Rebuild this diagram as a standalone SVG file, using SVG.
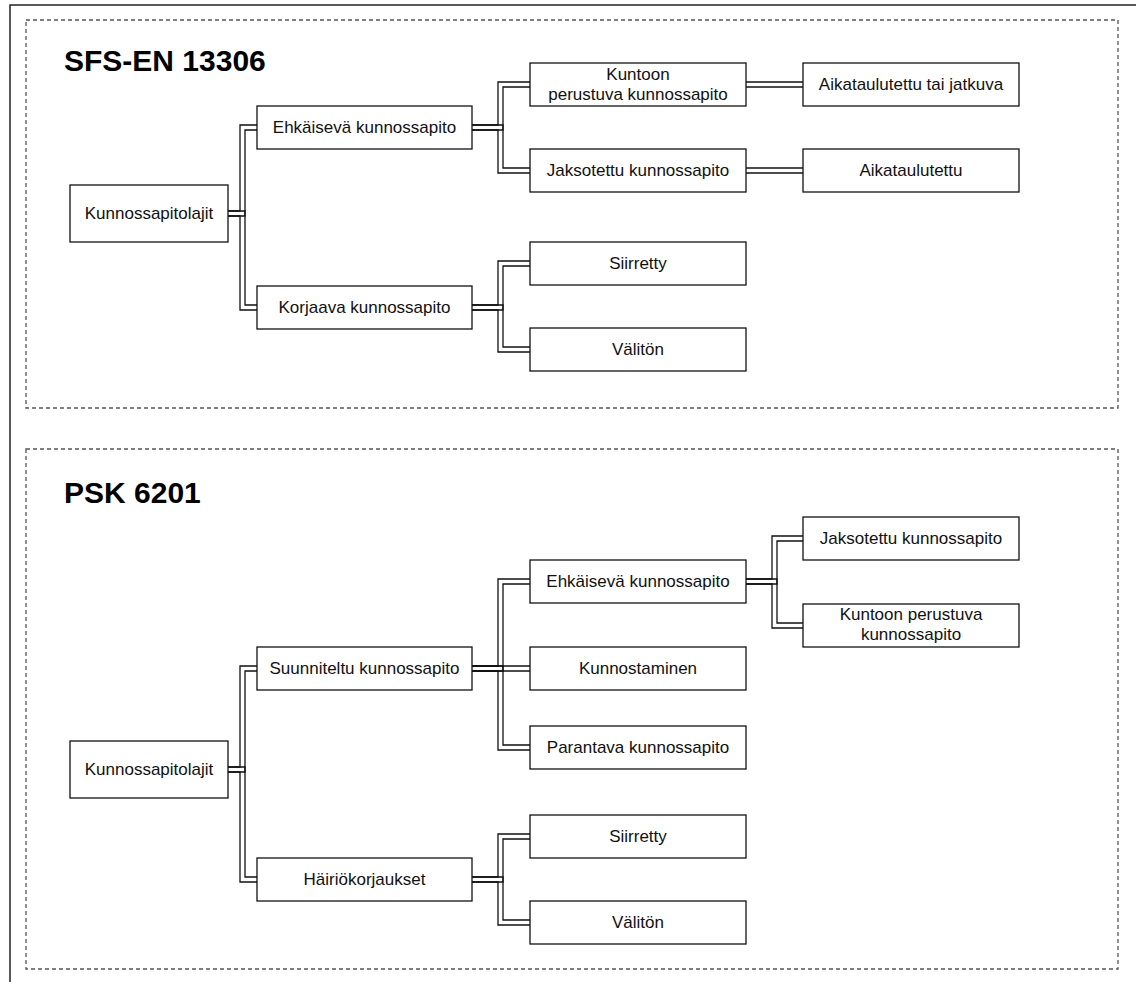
<svg xmlns="http://www.w3.org/2000/svg" width="1136" height="982" viewBox="0 0 1136 982">
  <style>
    .frame { fill: none; stroke: #222; stroke-width: 1.5; }
    .section { fill: none; stroke: #555; stroke-width: 1.3; stroke-dasharray: 4 3; }
    .title { font-family: "Liberation Sans", Arial, sans-serif; font-weight: bold; font-size: 30px; fill: #000; }
    .box { fill: #fff; stroke: #111; stroke-width: 1.3; }
    .label { font-family: "Liberation Sans", Arial, sans-serif; font-size: 17px; fill: #111; text-anchor: middle; }
    .link { fill: none; stroke: #111; stroke-width: 1.3; stroke-linejoin: miter; }
  </style>

  <!-- outer page frame -->
  <path class="frame" d="M1136,5 H10 V982"/>

  <!-- section containers -->
  <rect class="section" x="26" y="20" width="1092" height="388"/>
  <rect class="section" x="26" y="449" width="1092" height="520"/>
  <text class="title" x="64" y="71">SFS-EN 13306</text>
  <text class="title" x="64" y="503">PSK 6201</text>

  <!-- double-line connectors -->
  <g id="connectors" class="link">
    <!-- SFS-EN 13306 -->
    <polyline points="228,211 240,211 240,125 257,125"/>
    <polyline points="228,216 245,216 245,130 257,130"/>
    <polyline points="228,211 245,211 245,305 257,305"/>
    <polyline points="228,216 240,216 240,310 257,310"/>
    <polyline points="472,125 498,125 498,82 530,82"/>
    <polyline points="472,130 503,130 503,87 530,87"/>
    <polyline points="472,125 503,125 503,168 530,168"/>
    <polyline points="472,130 498,130 498,173 530,173"/>
    <polyline points="746,82 803,82"/>
    <polyline points="746,87 803,87"/>
    <polyline points="746,168 803,168"/>
    <polyline points="746,173 803,173"/>
    <polyline points="472,305 498,305 498,261 530,261"/>
    <polyline points="472,310 503,310 503,266 530,266"/>
    <polyline points="472,305 503,305 503,347 530,347"/>
    <polyline points="472,310 498,310 498,352 530,352"/>
    <!-- PSK 6201 -->
    <polyline points="228,767 240,767 240,666 257,666"/>
    <polyline points="228,772 245,772 245,671 257,671"/>
    <polyline points="228,767 245,767 245,877 257,877"/>
    <polyline points="228,772 240,772 240,882 257,882"/>
    <polyline points="472,666 498,666 498,579 530,579"/>
    <polyline points="472,671 503,671 503,584 530,584"/>
    <polyline points="472,666 530,666"/>
    <polyline points="472,671 530,671"/>
    <polyline points="472,666 503,666 503,745 530,745"/>
    <polyline points="472,671 498,671 498,750 530,750"/>
    <polyline points="746,579 772,579 772,536 803,536"/>
    <polyline points="746,584 777,584 777,541 803,541"/>
    <polyline points="746,579 777,579 777,623 803,623"/>
    <polyline points="746,584 772,584 772,628 803,628"/>
    <polyline points="472,877 498,877 498,834 530,834"/>
    <polyline points="472,882 503,882 503,839 530,839"/>
    <polyline points="472,877 503,877 503,920 530,920"/>
    <polyline points="472,882 498,882 498,925 530,925"/>
  </g>

  <!-- SFS-EN 13306 nodes -->
  <g id="sfs-root"><rect class="box" x="70" y="185" width="158" height="57"/><text class="label" x="149" y="219">Kunnossapitolajit</text></g>
  <g id="sfs-ehkaiseva"><rect class="box" x="257" y="106" width="215" height="43"/><text class="label" x="364.5" y="133">Ehkäisevä kunnossapito</text></g>
  <g id="sfs-korjaava"><rect class="box" x="257" y="286" width="215" height="43"/><text class="label" x="364.5" y="313">Korjaava kunnossapito</text></g>
  <g id="sfs-kuntoon"><rect class="box" x="530" y="63" width="216" height="43"/><text class="label" x="638" y="79.5">Kuntoon</text><text class="label" x="638" y="99.5">perustuva kunnossapito</text></g>
  <g id="sfs-jaksotettu"><rect class="box" x="530" y="149" width="216" height="43"/><text class="label" x="638" y="176">Jaksotettu kunnossapito</text></g>
  <g id="sfs-aikataulutettu-jatkuva"><rect class="box" x="803" y="63" width="216" height="43"/><text class="label" x="911" y="90">Aikataulutettu tai jatkuva</text></g>
  <g id="sfs-aikataulutettu"><rect class="box" x="803" y="149" width="216" height="43"/><text class="label" x="911" y="176">Aikataulutettu</text></g>
  <g id="sfs-siirretty"><rect class="box" x="530" y="242" width="216" height="43"/><text class="label" x="638" y="269">Siirretty</text></g>
  <g id="sfs-valiton"><rect class="box" x="530" y="328" width="216" height="43"/><text class="label" x="638" y="355">Välitön</text></g>

  <!-- PSK 6201 nodes -->
  <g id="psk-root"><rect class="box" x="70" y="741" width="158" height="57"/><text class="label" x="149" y="775">Kunnossapitolajit</text></g>
  <g id="psk-suunniteltu"><rect class="box" x="257" y="647" width="215" height="43"/><text class="label" x="364.5" y="674">Suunniteltu kunnossapito</text></g>
  <g id="psk-hairiokorjaukset"><rect class="box" x="257" y="858" width="215" height="43"/><text class="label" x="364.5" y="885">Häiriökorjaukset</text></g>
  <g id="psk-ehkaiseva"><rect class="box" x="530" y="560" width="216" height="43"/><text class="label" x="638" y="587">Ehkäisevä kunnossapito</text></g>
  <g id="psk-kunnostaminen"><rect class="box" x="530" y="647" width="216" height="43"/><text class="label" x="638" y="674">Kunnostaminen</text></g>
  <g id="psk-parantava"><rect class="box" x="530" y="726" width="216" height="43"/><text class="label" x="638" y="753">Parantava kunnossapito</text></g>
  <g id="psk-jaksotettu"><rect class="box" x="803" y="517" width="216" height="43"/><text class="label" x="911" y="544">Jaksotettu kunnossapito</text></g>
  <g id="psk-kuntoon"><rect class="box" x="803" y="604" width="216" height="43"/><text class="label" x="911" y="620">Kuntoon perustuva</text><text class="label" x="911" y="640">kunnossapito</text></g>
  <g id="psk-siirretty"><rect class="box" x="530" y="815" width="216" height="43"/><text class="label" x="638" y="842">Siirretty</text></g>
  <g id="psk-valiton"><rect class="box" x="530" y="901" width="216" height="43"/><text class="label" x="638" y="928">Välitön</text></g>
</svg>
